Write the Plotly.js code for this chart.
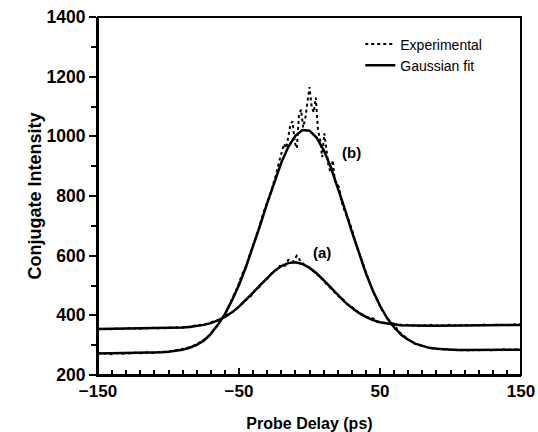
<!DOCTYPE html>
<html>
<head>
<meta charset="utf-8">
<script src="https://cdn.plot.ly/plotly-3.0.1.min.js"></script>
<style>html,body{margin:0;padding:0;background:#fff;}</style>
</head>
<body>
<div id="chart"></div>
<script>
// Probe delay (ps) sample positions
const expDelayB = [-150,-147,-144,-141,-138,-135,-132,-129,-126,-123,-120,-117,-114,-111,-108,-105,-102,-99,-96,-93,-90,-87,-84,-81,-78,-75,-72,-69,-66,-63,-60,-57,-54,-51,-48,-45,-42,-39,-36,-33,-30,-27,-24,-22.5,-21,-19.5,-18,-16.5,-15,-13.5,-12,-10.5,-9,-7.5,-6,-4.5,-3,-1.5,0,1.5,3,4.5,6,7.5,9,10.5,12,13.5,15,16.5,18,19.5,21,22.5,24,27,30,33,36,39,42,45,48,51,54,57,60,63,66,69,72,75,78,81,84,87,90,93,96,99,102,105,108,111,114,117,120,123,126,129,132,135,138,141,144,147,150];
const expDelayA = [-150,-147,-144,-141,-138,-135,-132,-129,-126,-123,-120,-117,-114,-111,-108,-105,-102,-99,-96,-93,-90,-87,-84,-81,-78,-75,-72,-69,-66,-63,-60,-57,-54,-51,-48,-45,-42,-39,-36,-33,-30,-27,-24,-21,-18,-15,-12,-9,-6,-3,0,3,6,9,12,15,18,21,24,27,30,33,36,39,42,45,48,51,54,57,60,63,66,69,72,75,78,81,84,87,90,93,96,99,102,105,108,111,114,117,120,123,126,129,132,135,138,141,144,147,150];
const fitDelay = [-150,-145,-140,-135,-130,-125,-120,-115,-110,-105,-100,-95,-90,-85,-80,-75,-70,-65,-60,-55,-50,-45,-40,-35,-30,-25,-20,-15,-10,-5,0,5,10,15,20,25,30,35,40,45,50,55,60,65,70,75,80,85,90,95,100,105,110,115,120,125,130,135,140,145,150];

// Experimental conjugate intensity, curve (b)
const expB = [275,271,273,270,272,274,271,273,272,275,273,274,276,274,277,276,279,280,282,285,288,290,296,300,309,318,326,345,362,382,402,432,462,495,535,566,610,650,690,740,782,818,868,900,925,950,975,960,1000,1040,1050,980,960,1070,1090,1030,1060,1120,1165,1100,1080,1130,1020,990,930,1010,960,900,880,920,850,840,830,790,760,730,690,640,600,562,520,478,452,420,400,378,372,345,336,322,314,304,300,295,292,290,288,286,285,284,283,285,283,284,282,284,283,285,284,283,285,284,286,285,284,286,285];
// Experimental conjugate intensity, curve (a)
const expA = [356,352,355,353,356,354,355,357,354,356,355,357,356,358,356,358,357,359,358,360,359,361,362,366,366,370,372,378,382,386,396,404,412,425,440,452,462,482,492,510,522,540,552,566,562,586,578,600,580,566,560,548,536,522,505,490,478,462,452,436,428,418,404,400,392,390,378,376,372,370,368,372,366,368,366,367,365,367,366,368,366,367,366,368,366,367,368,367,366,368,367,369,367,368,367,369,368,367,369,368,369];

// Gaussian fit, curve (b)
const fitB = [272,272.2,272.4,272.7,272.9,273.1,273.6,274,274.8,276,277.8,280.5,284.8,291.3,301,315,338,368,404,450,502,563,630,702,776,848,912,965,1002,1021,1019,996,955,898,831,757,681,608,541,482,432,391,360,335,318,305,297,291,288,286,284.6,284,283.7,283.8,283.9,284.1,284.3,284.5,284.6,284.8,285];
// Gaussian fit, curve (a)
const fitA = [354,354.2,354.5,354.7,354.9,355.2,355.4,355.7,356,356.4,356.9,357.8,358.9,360.8,363.7,368,374,383,395,410,429,451,476,501,526,548,565,575,577.5,572,559,541,518,493,469,445,425,408,395,384,377,372,369,367,366,365.5,365.3,365.4,365.5,365.6,365.8,366,366.2,366.5,366.7,367,367.2,367.4,367.6,367.8,368];

// Curve labels
const curveLabels = ['(b)','(a)'];
const curveLabelX = [30,9];
const curveLabelY = [947,609];

const FAM = 'Arial, Liberation Sans, sans-serif';
const traces = [
  {x: expDelayB, y: expB, type:'scatter', mode:'lines', name:'Experimental',
   line:{color:'black', width:2, dash:'dot'}, showlegend:true},
  {x: expDelayA, y: expA, type:'scatter', mode:'lines', name:'Experimental',
   line:{color:'black', width:2, dash:'dot'}, showlegend:false},
  {x: fitDelay, y: fitB, type:'scatter', mode:'lines', name:'Gaussian fit',
   line:{color:'black', width:2.5}, showlegend:true},
  {x: fitDelay, y: fitA, type:'scatter', mode:'lines', name:'Gaussian fit',
   line:{color:'black', width:2.5}, showlegend:false}
];

const layout = {
  width:538, height:432,
  margin:{l:98, r:17, t:17, b:57},
  paper_bgcolor:'white', plot_bgcolor:'white',
  showlegend:true,
  legend:{x:0.62, y:0.968, xanchor:'left', yanchor:'top', bgcolor:'rgba(0,0,0,0)',
          font:{family:FAM, size:14, color:'black'}, tracegroupgap:0},
  xaxis:{range:[-150,150], showgrid:false, zeroline:false,
         showline:true, linecolor:'black', linewidth:2,
         dtick:100, tick0:-150,
         ticks:'inside', ticklen:7, tickwidth:2, tickcolor:'black',
         minor:{dtick:10, ticks:'inside', ticklen:5, tickwidth:2, tickcolor:'black'},
         tickfont:{family:FAM, size:17, weight:'bold', color:'black'},
         title:{text:'Probe Delay (ps)', font:{family:FAM, size:16, weight:'bold', color:'black'}}},
  yaxis:{range:[200,1400], showgrid:false, zeroline:false,
         showline:true, linecolor:'black', linewidth:2,
         dtick:200, tick0:200,
         ticks:'outside', ticklen:7, tickwidth:2, tickcolor:'black',
         minor:{dtick:100, ticks:'outside', ticklen:5, tickwidth:2, tickcolor:'black'},
         tickfont:{family:FAM, size:17.5, weight:'bold', color:'black'},
         title:{text:'Conjugate Intensity', font:{family:FAM, size:18, weight:'bold', color:'black'}}},
  shapes:[{type:'rect', xref:'paper', yref:'paper', x0:0, x1:1, y0:0, y1:1,
           line:{color:'black', width:2}, fillcolor:'rgba(0,0,0,0)', layer:'above'}],
  annotations: curveLabels.map((t,i)=>({x:curveLabelX[i], y:curveLabelY[i], xref:'x', yref:'y',
      text:t, showarrow:false, font:{family:FAM, size:15, weight:'bold', color:'black'}}))
};

Plotly.newPlot('chart', traces, layout, {displayModeBar:false});
</script>
</body>
</html>
